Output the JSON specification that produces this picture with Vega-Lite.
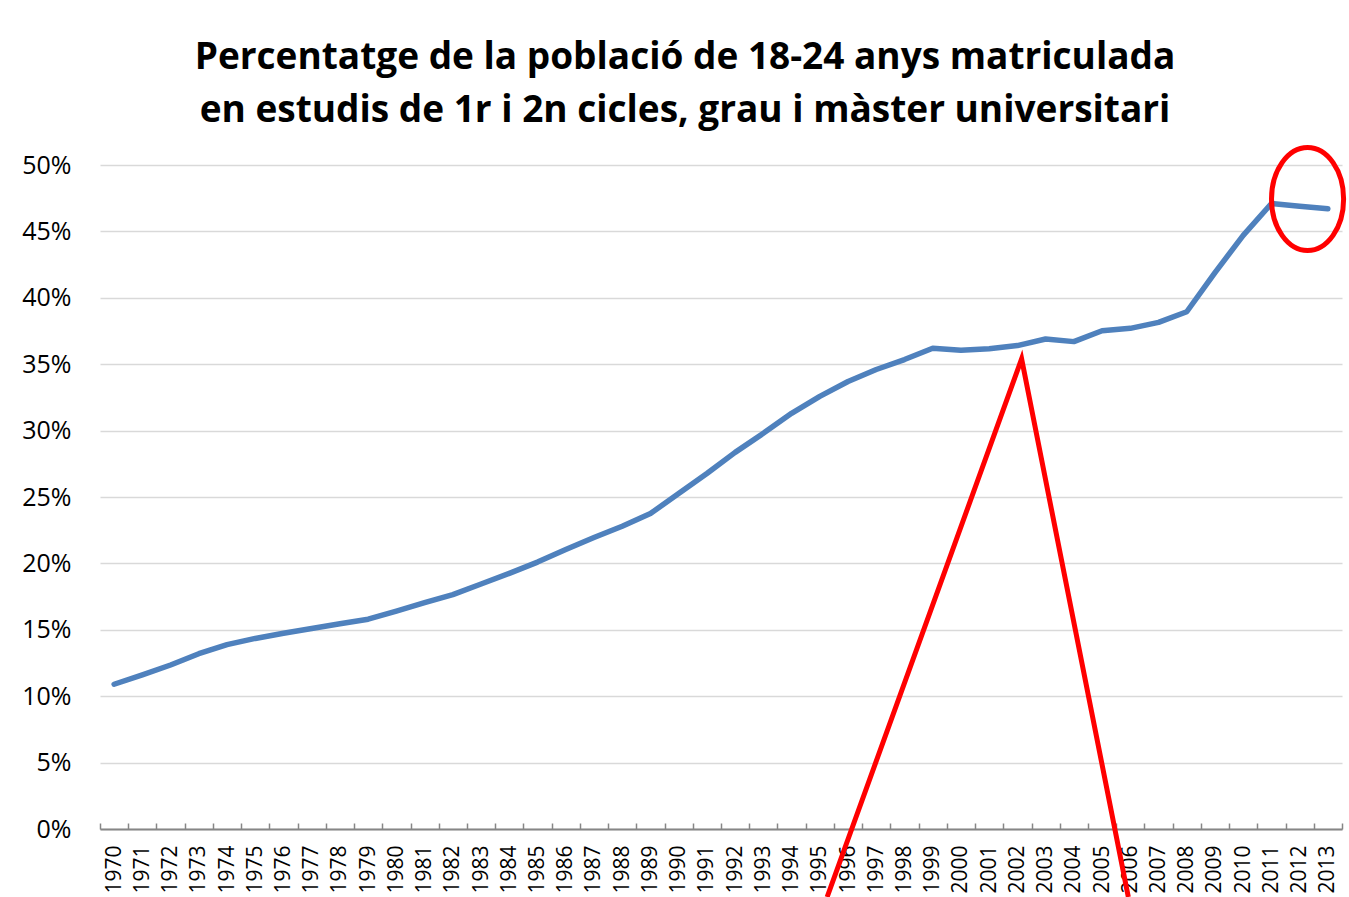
{
  "$schema": "https://vega.github.io/schema/vega-lite/v6.json",
  "width": 1242,
  "height": 664,
  "autosize": {"type": "none"},
  "padding": {"left": 100, "top": 165, "right": 7, "bottom": 68},
  "background": "white",
  "config": {"view": {"stroke": null}, "font": "Open Sans"},
  "title": {
    "text": ["Percentatge de la població de 18-24 anys matriculada", "en estudis de 1r i 2n cicles, grau i màster universitari"],
    "font": "Open Sans",
    "fontSize": 37,
    "fontWeight": "bold",
    "color": "#000000",
    "lineHeight": 53,
    "anchor": "middle",
    "dx": -36,
    "offset": 7
  },
  "datasets": {
    "serie": [
      {"year": 1970, "pct": 0.109},
      {"year": 1971, "pct": 0.116},
      {"year": 1972, "pct": 0.1235},
      {"year": 1973, "pct": 0.132},
      {"year": 1974, "pct": 0.1388},
      {"year": 1975, "pct": 0.1435},
      {"year": 1976, "pct": 0.1474},
      {"year": 1977, "pct": 0.151},
      {"year": 1978, "pct": 0.1545},
      {"year": 1979, "pct": 0.158},
      {"year": 1980, "pct": 0.164},
      {"year": 1981, "pct": 0.1705},
      {"year": 1982, "pct": 0.1765},
      {"year": 1983, "pct": 0.1845},
      {"year": 1984, "pct": 0.1925},
      {"year": 1985, "pct": 0.201},
      {"year": 1986, "pct": 0.2105},
      {"year": 1987, "pct": 0.2195},
      {"year": 1988, "pct": 0.228},
      {"year": 1989, "pct": 0.2375},
      {"year": 1990, "pct": 0.2527},
      {"year": 1991, "pct": 0.2677},
      {"year": 1992, "pct": 0.2836},
      {"year": 1993, "pct": 0.298},
      {"year": 1994, "pct": 0.313},
      {"year": 1995, "pct": 0.3258},
      {"year": 1996, "pct": 0.337},
      {"year": 1997, "pct": 0.346},
      {"year": 1998, "pct": 0.3535},
      {"year": 1999, "pct": 0.362},
      {"year": 2000, "pct": 0.3605},
      {"year": 2001, "pct": 0.3617},
      {"year": 2002, "pct": 0.364},
      {"year": 2003, "pct": 0.369},
      {"year": 2004, "pct": 0.367},
      {"year": 2005, "pct": 0.3752},
      {"year": 2006, "pct": 0.377},
      {"year": 2007, "pct": 0.3815},
      {"year": 2008, "pct": 0.3895},
      {"year": 2009, "pct": 0.419},
      {"year": 2010, "pct": 0.447},
      {"year": 2011, "pct": 0.471},
      {"year": 2012, "pct": 0.469},
      {"year": 2013, "pct": 0.467}
    ],
    "triangle": [
      {"yr": 1995.26, "pct": -0.0512},
      {"yr": 2002.15, "pct": 0.354},
      {"yr": 2005.93, "pct": -0.0512}
    ],
    "ellipse": [
      {"yr": 2012.28, "pct": 0.4744}
    ]
  },
  "layer": [
    {
      "data": {"name": "serie"},
      "mark": {"type": "line", "color": "#4F81BD", "strokeWidth": 5.5, "strokeCap": "round", "strokeJoin": "round"},
      "encoding": {
        "x": {
          "field": "year",
          "type": "ordinal",
          "scale": {"type": "band", "paddingInner": 0, "paddingOuter": 0},
          "axis": {
            "title": null,
            "labelAngle": -90,
            "labelFontSize": 21,
            "labelColor": "#000000",
            "labelPadding": 22,
            "tickBand": "extent",
            "tickSize": -6,
            "tickColor": "#868686",
            "tickWidth": 1.5,
            "domainColor": "#868686",
            "domainWidth": 2,
            "grid": false
          }
        },
        "y": {
          "field": "pct",
          "type": "quantitative",
          "scale": {"domain": [0, 0.5], "nice": false},
          "axis": {
            "title": null,
            "format": ".0%",
            "values": [0, 0.05, 0.1, 0.15, 0.2, 0.25, 0.3, 0.35, 0.4, 0.45, 0.5],
            "labelFontSize": 25,
            "labelColor": "#000000",
            "labelPadding": 29,
            "ticks": false,
            "domain": false,
            "grid": true,
            "gridColor": "#D9D9D9",
            "gridWidth": 1.5
          }
        }
      }
    },
    {
      "data": {"name": "triangle"},
      "mark": {"type": "line", "color": "#FF0000", "strokeWidth": 5, "strokeJoin": "miter", "clip": false},
      "encoding": {
        "x": {"field": "yr", "type": "quantitative", "scale": {"domain": [1969.5, 2013.5], "nice": false, "zero": false}, "axis": null},
        "y": {"field": "pct", "type": "quantitative", "scale": {"domain": [0, 0.5], "nice": false}}
      }
    },
    {
      "data": {"name": "ellipse"},
      "mark": {"type": "point", "shape": "M -0.7 0 A 0.7 1 0 1 0 0.7 0 A 0.7 1 0 1 0 -0.7 0 Z", "filled": false, "stroke": "#FF0000", "strokeWidth": 5, "opacity": 1, "size": 10609},
      "encoding": {
        "x": {"field": "yr", "type": "quantitative", "scale": {"domain": [1969.5, 2013.5], "nice": false, "zero": false}, "axis": null},
        "y": {"field": "pct", "type": "quantitative", "scale": {"domain": [0, 0.5], "nice": false}}
      }
    }
  ],
  "resolve": {"scale": {"x": "independent"}}
}
